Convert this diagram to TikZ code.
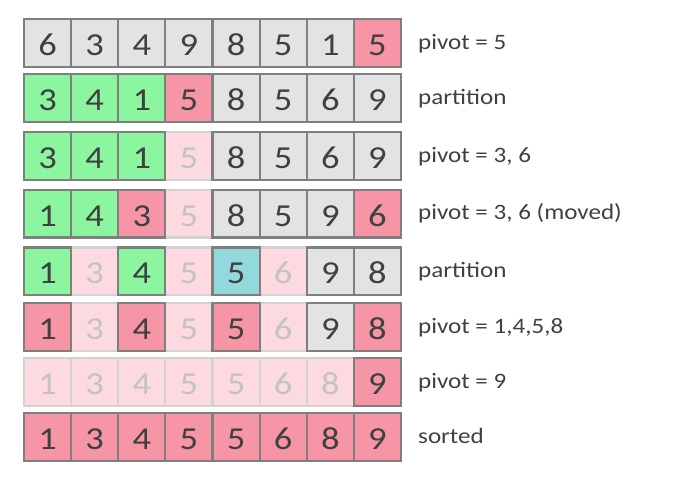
\documentclass[tikz,border=0pt]{standalone}
\usepackage{fontspec}
\setmainfont{Carlito}[FakeStretch=1.14]
\usepackage{xcolor}
\definecolor{edge}{HTML}{7F7F7F}
\definecolor{ink}{HTML}{404040}
\definecolor{idle}{HTML}{E3E3E3}
\definecolor{low}{HTML}{8BF59F}
\definecolor{piv}{HTML}{F595A6}
\definecolor{mid}{HTML}{92D8DD}
\definecolor{done}{HTML}{FDDAE0}
\definecolor{doneedge}{HTML}{D3D3D3}
\definecolor{donetext}{HTML}{C3C3C3}
\newcommand{\cellfont}{\fontsize{32}{32}\selectfont}
\newcommand{\notefont}{\fontsize{22}{22}\selectfont}

\begin{document}
\begin{tikzpicture}[x=1pt, y=-1pt,
  box/.style={draw=edge, line width=2.2pt, minimum width=47.1pt, minimum height=47.5pt,
    inner sep=0pt, outer sep=0pt, text height=25.4pt, text depth=0pt, font=\cellfont, text=ink},
  k0/.style={box, fill=idle},
  k1/.style={box, fill=low},
  k2/.style={box, fill=piv},
  k3/.style={box, fill=mid},
  k4/.style={box, fill=done, draw=doneedge, text=donetext},
  note/.style={anchor=base west, inner sep=0pt, font=\notefont, text=ink}]
  \useasboundingbox (0,0) rectangle (678,484);
  % one row per step: value/kind of each cell, then the note
  \foreach \row/\top/\cells/\note in {
    1/19.3/{6/0,3/0,4/0,9/0,8/0,5/0,1/0,5/2}/{pivot = 5},
    2/74.3/{3/1,4/1,1/1,5/2,8/0,5/0,6/0,9/0}/{partition},
    3/132.3/{3/1,4/1,1/1,5/4,8/0,5/0,6/0,9/0}/{pivot = 3, 6},
    4/190/{1/1,4/1,3/2,5/4,8/0,5/0,9/0,6/2}/{pivot = 3, 6 (moved)},
    5/247.5/{1/1,3/4,4/1,5/4,5/3,6/4,9/0,8/0}/{partition},
    6/303.3/{1/2,3/4,4/2,5/4,5/2,6/4,9/0,8/2}/{pivot = 1,4,5,8},
    7/358.3/{1/4,3/4,4/4,5/4,5/4,6/4,8/4,9/2}/{pivot = 9},
    8/413.3/{1/2,3/2,4/2,5/2,5/2,6/2,8/2,9/2}/{sorted}} {
    % faded cells first, so the dark borders stay on top
    \foreach \v/\k [count=\c] in \cells {
      \ifnum\k=4 \node[k\k] (n\row-\c) at ({47.56+47.125*(\c-1)}, {\top+23.75}) {\v};\fi
    }
    \foreach \v/\k [count=\c] in \cells {
      \ifnum\k<4 \node[k\k] (n\row-\c) at ({47.56+47.125*(\c-1)}, {\top+23.75}) {\v};\fi
    }
    \node[note] (t\row) at (418, {\top+30}) {\note};
  }
\end{tikzpicture}
\end{document}
